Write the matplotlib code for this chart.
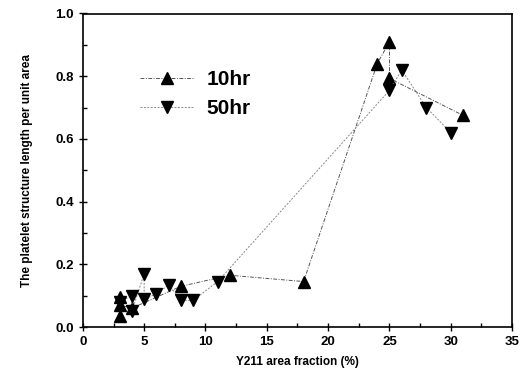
import numpy as np
import matplotlib.pyplot as plt
from matplotlib.ticker import MultipleLocator

plt.rcParams["font.family"] = ["Liberation Sans", "DejaVu Sans"]
plt.rcParams["font.weight"] = "bold"

# 10hr series (up triangles)
x_10 = [3, 3, 3, 4, 8, 12, 18, 24, 25, 25, 31]
y_10 = [0.035, 0.095, 0.07, 0.06, 0.13, 0.165, 0.145, 0.84, 0.91, 0.793, 0.675]

# 50hr series (down triangles)
x_50 = [3, 4, 4, 5, 5, 6, 7, 8, 9, 11, 25, 26, 28, 30]
y_50 = [0.08, 0.10, 0.05, 0.17, 0.09, 0.105, 0.135, 0.085, 0.085, 0.145, 0.755, 0.82, 0.70, 0.62]

fig = plt.figure(figsize=(5.21, 3.75), dpi=100)
ax = fig.add_axes([0.159, 0.128, 0.824, 0.836])

ax.plot(x_10, y_10, color="#555555", linestyle=(0, (4, 1.5, 1, 1.5)), linewidth=0.7,
        marker="^", markersize=9, markerfacecolor="black", markeredgecolor="black",
        label="10hr")
ax.plot(x_50, y_50, color="#888888", linestyle=(0, (2, 1.5)), linewidth=0.7,
        marker="v", markersize=9, markerfacecolor="black", markeredgecolor="black",
        label="50hr")

ax.set_xlim(0, 35)
ax.set_ylim(0, 1.0)
ax.xaxis.set_major_locator(MultipleLocator(5))
ax.xaxis.set_minor_locator(MultipleLocator(2.5))
ax.yaxis.set_major_locator(MultipleLocator(0.2))
ax.yaxis.set_minor_locator(MultipleLocator(0.1))
ax.tick_params(which="major", direction="inout", length=6, width=1, labelsize=9.5)
ax.tick_params(which="minor", direction="in", length=3, width=1)
for s in ax.spines.values():
    s.set_linewidth(1.2)

ax.set_xlabel("Y211 area fraction (%)", fontsize=8.5, fontweight="bold", labelpad=6)
ax.set_ylabel("The platelet structure length per unit area", fontsize=8.5,
              fontweight="bold", labelpad=16)

ax.legend(loc="upper left", bbox_to_anchor=(0.09, 0.88), frameon=False,
          prop={"size": 15, "weight": "bold"}, handlelength=2.6, handletextpad=0.6,
          labelspacing=0.5)

fig.savefig("out.png", dpi=100)
